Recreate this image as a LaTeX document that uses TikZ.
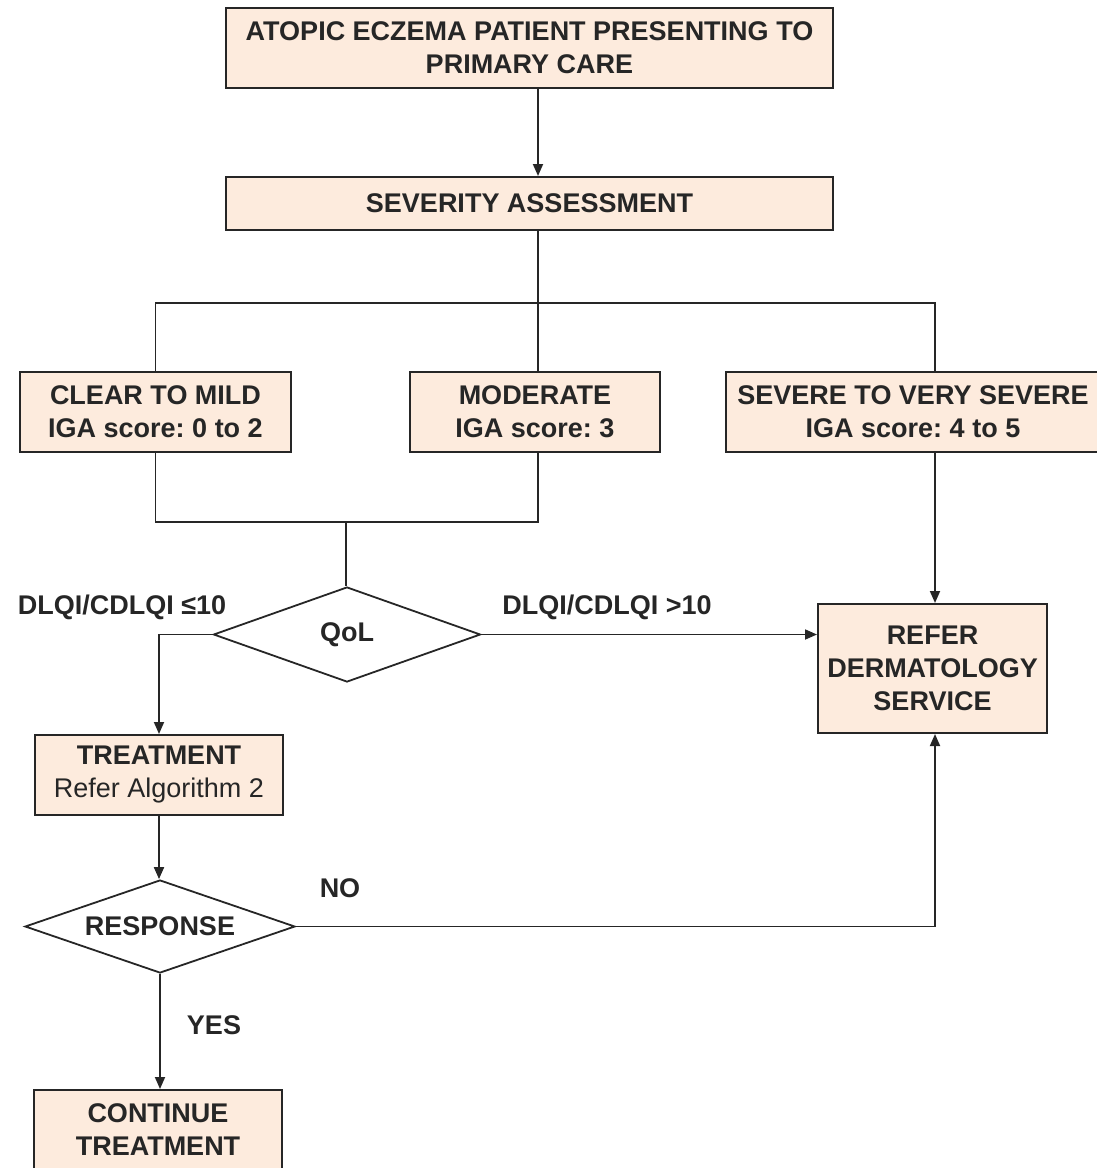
\documentclass[tikz,border=0pt]{standalone}
\usepackage{fontspec}
\setmainfont{Liberation Sans}
\usetikzlibrary{shapes.geometric,arrows.meta,calc}
\definecolor{boxfill}{HTML}{FDEBDD}
\definecolor{ink}{HTML}{262626}
\frenchspacing
\begin{document}
\begin{tikzpicture}[x=1pt,y=-1pt,
  every node/.style={text=ink},
  txt/.style={font=\fontsize{27}{33}\selectfont\bfseries, align=center},
  box/.style={draw=ink, line width=2pt, fill=boxfill, inner sep=0pt, txt},
  dia/.style={draw=ink, line width=1.8pt, diamond, fill=white, inner sep=0pt, txt},
  lab/.style={txt, inner sep=0pt},
  ln/.style={draw=ink, line width=1.8pt},
  arr/.style={ln, -{Triangle[length=12pt,width=10pt]}}]
\useasboundingbox (0,0) rectangle (1097,1168);
% boxes
\node[box, minimum width=607pt, minimum height=80pt] (b1) at (529.5,48) {ATOPIC ECZEMA PATIENT PRESENTING TO\\PRIMARY CARE};
\node[box, minimum width=607pt, minimum height=53pt] (b2) at (529.5,203.5) {SEVERITY ASSESSMENT};
\node[box, minimum width=271pt, minimum height=80pt] (b3) at (155.5,412) {CLEAR TO MILD\\IGA score: 0 to 2};
\node[box, minimum width=250pt, minimum height=80pt] (b4) at (535,412) {MODERATE\\IGA score: 3};
\node[box, minimum width=374pt, minimum height=80pt] (b5) at (913,412) {SEVERE TO VERY SEVERE\\IGA score: 4 to 5};
\node[box, minimum width=229pt, minimum height=129pt] (b7) at (932.5,668.5) {REFER\\DERMATOLOGY\\SERVICE};
\node[box, minimum width=248pt, minimum height=80pt] (b6) at (159,775) {TREATMENT\\\mdseries Refer Algorithm 2};
\node[box, minimum width=248pt, minimum height=80pt] (b8) at (158,1130) {CONTINUE\\TREATMENT};
% diamonds
\node[dia, aspect=2.8, minimum width=267pt, minimum height=95pt] (q) at (347,634.5) {QoL};
\node[dia, aspect=2.9, minimum width=270pt, minimum height=93pt] (r) at (160,926.5) {RESPONSE};
% junctions
\coordinate (j1) at (538,303);
\coordinate (j2) at (346,522);
% connectors
\draw[arr] ([xshift=8.5pt]b1.south) -- ([xshift=8.5pt]b2.north);
\draw[ln] ([xshift=8.5pt]b2.south) -- (j1);
\draw[ln] (b3.north) |- (j1) -| ([xshift=22pt]b5.north);
\draw[ln] (j1) -- (j1 |- b4.north);
\draw[ln] (b3.south) |- (j2) -| ([xshift=3pt]b4.south);
\draw[ln] (j2) -- (j2 |- q.north);
\draw[arr] (q.west) -| (b6.north);
\draw[arr] (q.east) -- (q.east -| b7.west);
\draw[arr] ([xshift=22pt]b5.south) -- ([xshift=22pt]b5.south |- b7.north);
\draw[arr] (b6.south) -- (b6.south |- r.north);
\draw[arr] (r.east) -| ([xshift=2.5pt]b7.south);
\draw[arr] (r.south) -- (r.south |- b8.north);
% labels
\node[lab] (l1) at (122,607) {DLQI/CDLQI ≤10};
\node[lab] (l2) at (607,607) {DLQI/CDLQI >10};
\node[lab] (l3) at (340,888) {NO};
\node[lab] (l4) at (214,1025) {YES};
\end{tikzpicture}
\end{document}
